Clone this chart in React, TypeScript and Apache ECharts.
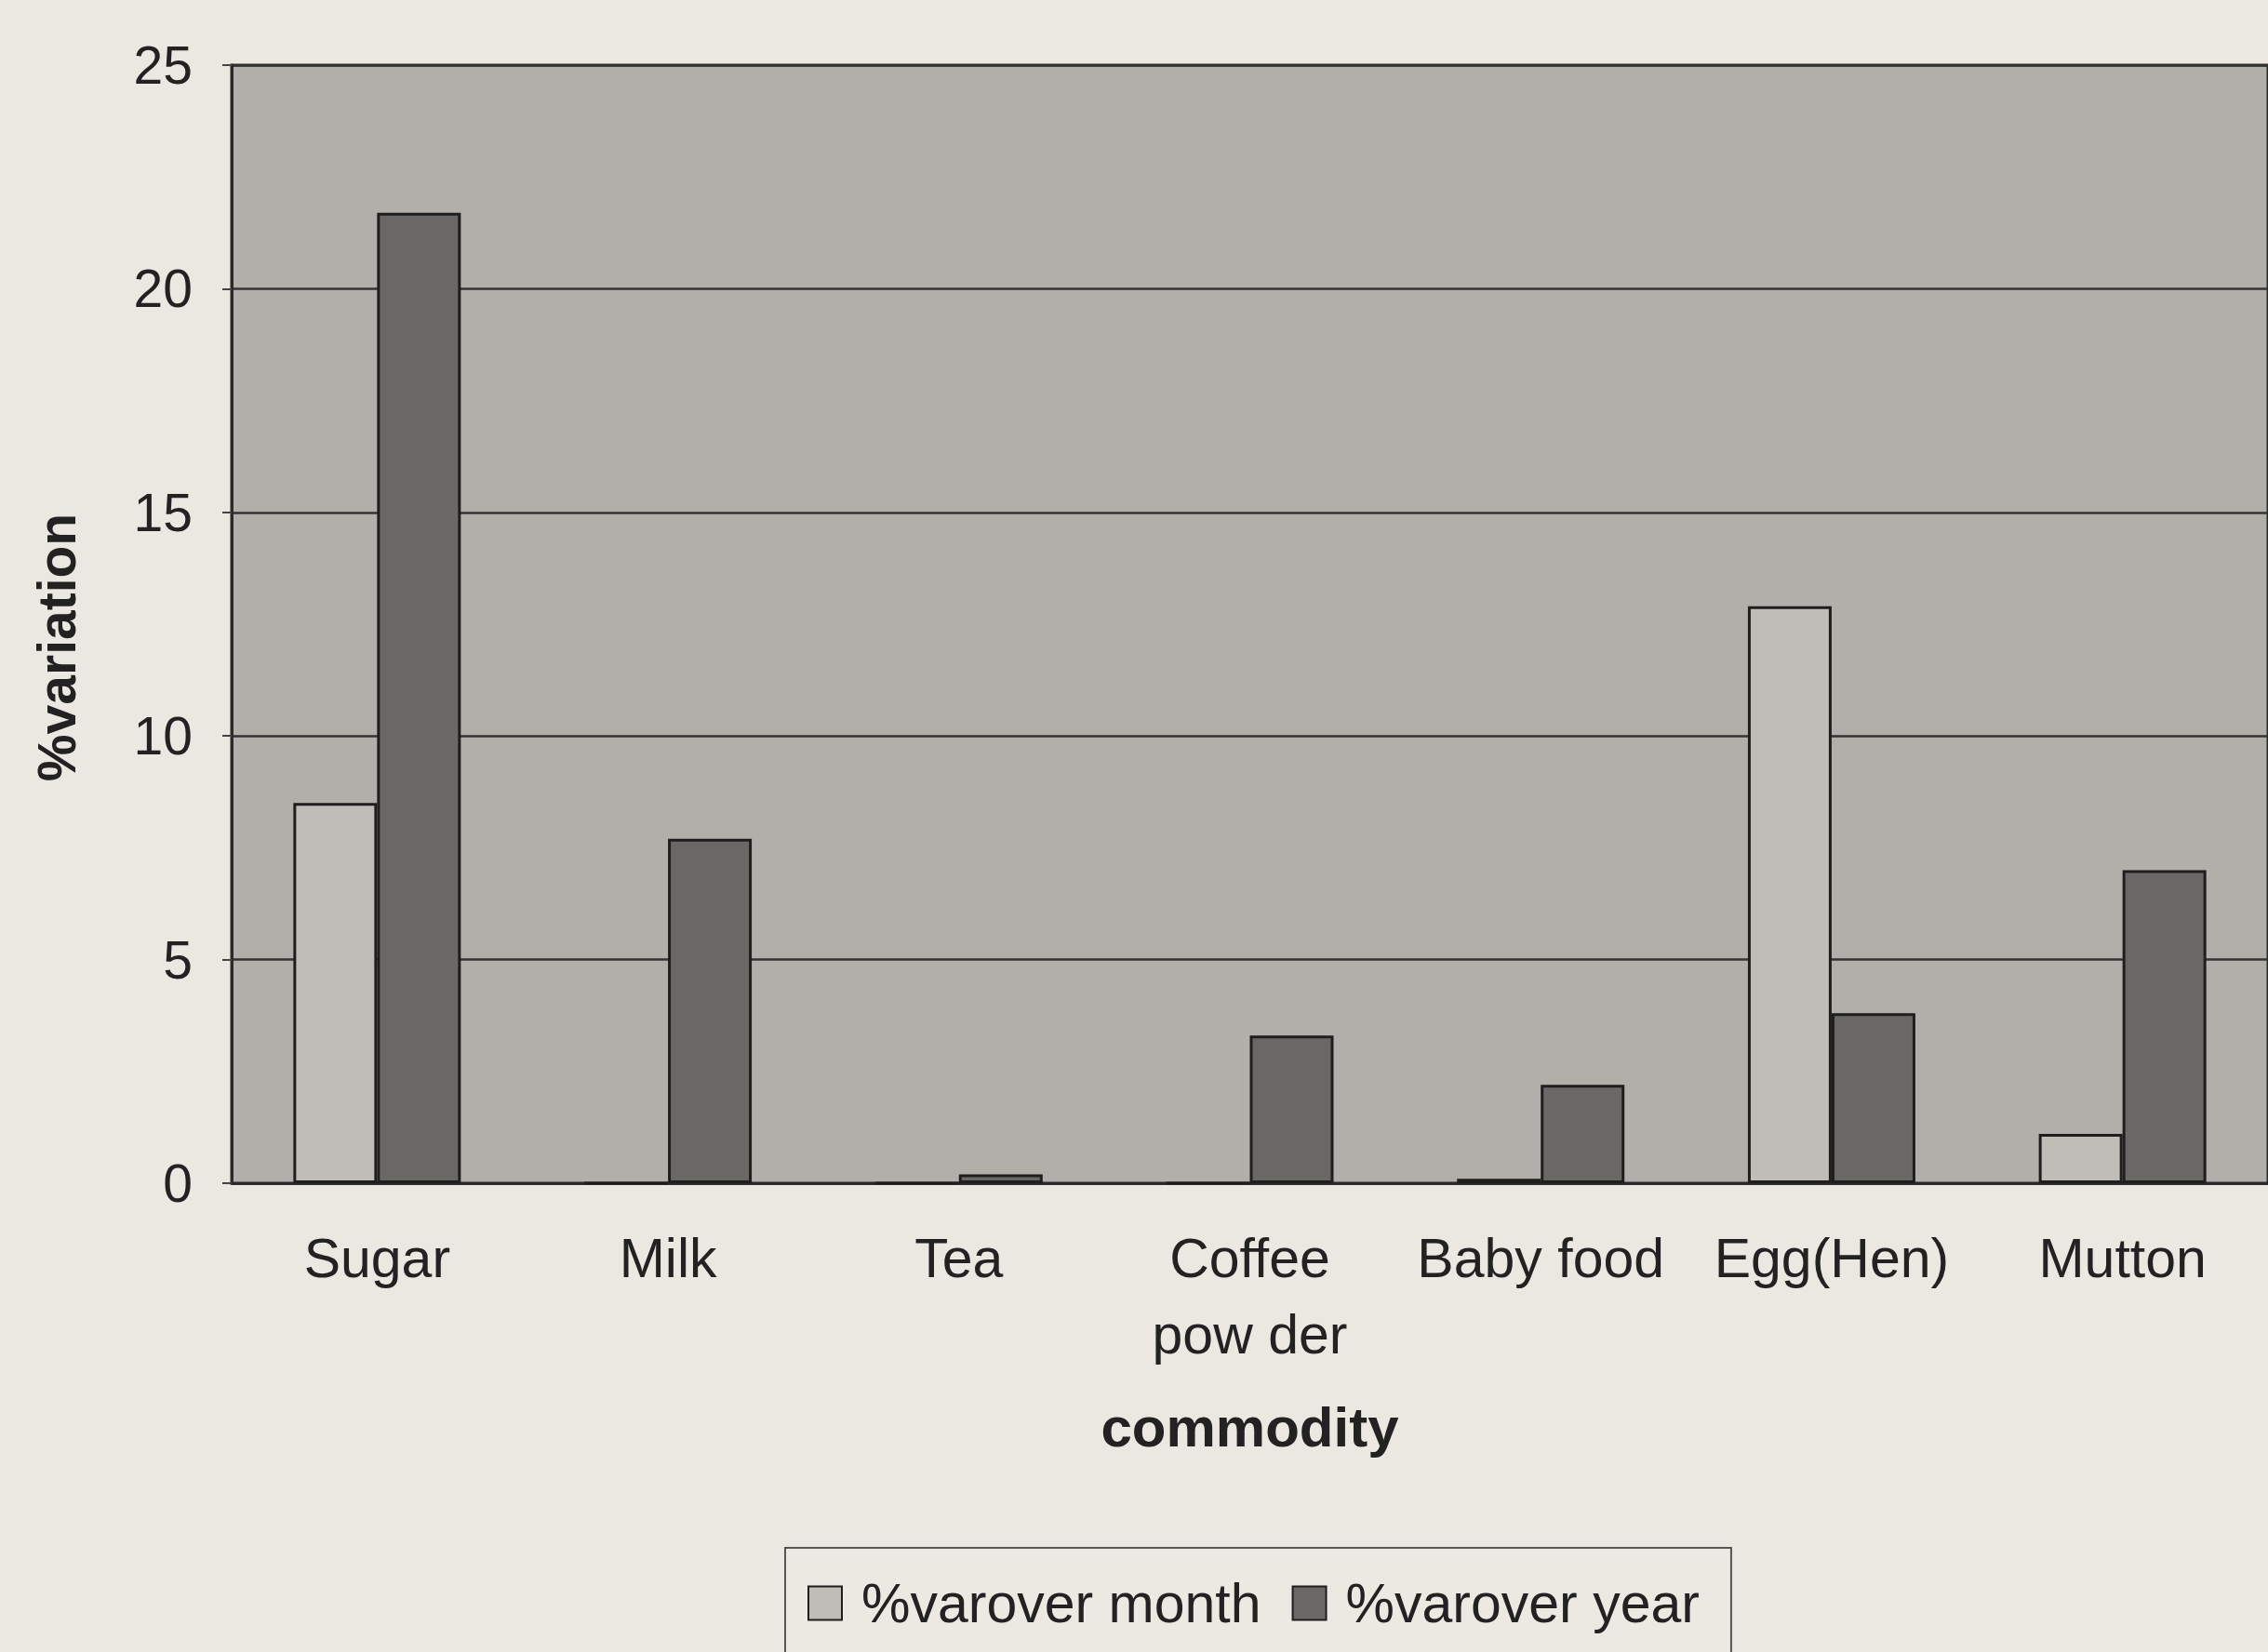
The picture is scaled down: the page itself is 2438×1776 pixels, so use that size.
import React, { useEffect, useRef } from "react";
import * as echarts from "echarts";

const categories = ["Sugar", "Milk", "Tea", "Coffee\npow der", "Baby food", "Egg(Hen)", "Mutton"];
const varOverMonth = [8.5, 0, 0, 0, 0.1, 12.9, 1.1];
const varOverYear = [21.7, 7.7, 0.2, 3.3, 2.2, 3.8, 7.0];
const seriesNames = ["%varover month", "%varover year"];
const yTicks = { min: 0, max: 25, interval: 5 };

const FONT = "'Liberation Sans', Arial, sans-serif";

export default function App() {
  const ref = useRef<HTMLDivElement>(null);
  useEffect(() => {
    if (!ref.current) return;
    const chart = echarts.init(ref.current, null, { renderer: "svg" });
    chart.setOption({
      animation: false,
      backgroundColor: "#ebe8e2",
      textStyle: { fontFamily: FONT, color: "#222" },
      grid: {
        left: 249,
        top: 70,
        right: -16,
        bottom: 1776 - 1272,
        show: true,
        backgroundColor: "#b2afaa",
        borderColor: "#2a2a2a",
        borderWidth: 3,
      },
      legend: {
        left: 844,
        top: 1664,
        orient: "horizontal",
        padding: [30, 34, 30, 24],
        borderColor: "#555",
        borderWidth: 2,
        backgroundColor: "#ece9e3",
        itemWidth: 36,
        itemHeight: 36,
        itemGap: 33,
        icon: "rect",
        textStyle: { fontFamily: FONT, fontSize: 59, color: "#222", padding: [0, 0, 0, 16] },
        data: seriesNames,
      },
      xAxis: {
        type: "category",
        data: categories,
        name: "commodity",
        nameLocation: "middle",
        nameGap: 232,
        nameTextStyle: { fontFamily: FONT, fontSize: 60, fontWeight: "bold", color: "#222" },
        axisLine: { show: true, lineStyle: { color: "#2a2a2a", width: 3 } },
        axisTick: { show: false },
        axisLabel: {
          interval: 0,
          fontFamily: FONT,
          fontSize: 59,
          color: "#222",
          margin: 40,
          lineHeight: 82,
        },
      },
      yAxis: {
        type: "value",
        min: yTicks.min,
        max: yTicks.max,
        interval: yTicks.interval,
        name: "%variation",
        nameLocation: "middle",
        nameRotate: 90,
        nameGap: 160,
        nameTextStyle: {
          fontFamily: FONT,
          fontSize: 57,
          fontWeight: "bold",
          color: "#222",
          padding: [0, 50, 0, 0],
        },
        axisLine: { show: true, lineStyle: { color: "#2a2a2a", width: 3 } },
        axisTick: { show: true, inside: false, length: 10, lineStyle: { color: "#444", width: 2 } },
        axisLabel: { fontFamily: FONT, fontSize: 57, color: "#222", margin: 42 },
        splitLine: { show: true, lineStyle: { color: "#333", width: 2.5 } },
      },
      series: [
        {
          name: seriesNames[0],
          type: "bar",
          data: varOverMonth,
          barWidth: 90,
          barGap: "0%",
          itemStyle: { color: "#c0bdb8", borderColor: "#1e1e1e", borderWidth: 3 },
        },
        {
          name: seriesNames[1],
          type: "bar",
          data: varOverYear,
          barWidth: 90,
          barGap: "0%",
          itemStyle: { color: "#6a6865", borderColor: "#1e1e1e", borderWidth: 3 },
        },
      ],
    });
    return () => chart.dispose();
  }, []);
  return (
    <div
      ref={ref}
      style={{ position: "absolute", left: 0, top: 0, width: 2438, height: 1776 }}
    />
  );
}
